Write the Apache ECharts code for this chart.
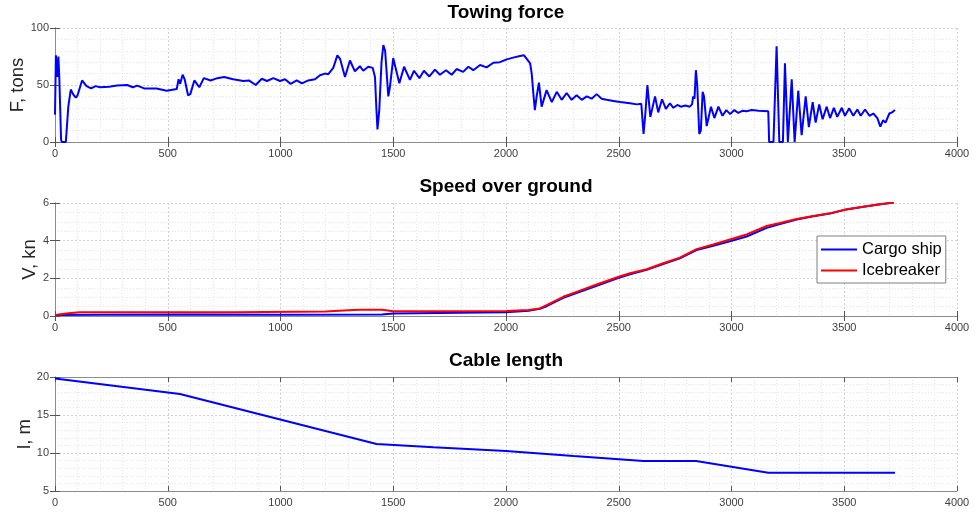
<!DOCTYPE html>
<html>
<head>
<meta charset="utf-8">
<title>Towing force, speed and cable length</title>
<script src="https://cdn.jsdelivr.net/npm/echarts@6/dist/echarts.min.js"></script>
<style>
  html, body { margin: 0; padding: 0; background: #ffffff; }
  #chart { width: 978px; height: 513px; }
</style>
</head>
<body>
<div id="chart"></div>
<script>
// ---- Towing force, F [tons] vs time [s]
const forceT = [0, 4, 10, 15, 19, 27, 30, 48, 59, 70, 80, 92, 100, 120, 140, 160, 180, 200, 240, 275,
  320, 345, 365, 395, 450, 495, 540, 548, 555, 566, 575, 590, 600, 618, 640, 660, 690, 720, 750, 790,
  835, 860, 890, 917, 940, 968, 998, 1020, 1045, 1072, 1095, 1123, 1153, 1175, 1197, 1212, 1234, 1252, 1264, 1286,
  1308, 1330, 1352, 1367, 1389, 1409, 1419, 1425, 1430, 1438, 1448, 1456, 1464, 1478, 1485, 1500, 1527, 1548, 1574, 1592,
  1616, 1636, 1660, 1685, 1707, 1734, 1759, 1781, 1810, 1833, 1855, 1885, 1914, 1944, 1973, 2003, 2032, 2062, 2080, 2092,
  2107, 2114, 2121, 2128, 2136, 2146, 2158, 2180, 2203, 2225, 2247, 2269, 2291, 2313, 2336, 2358, 2380, 2402, 2424, 2446,
  2476, 2506, 2550, 2580, 2600, 2610, 2618, 2627, 2640, 2661, 2675, 2692, 2709, 2727, 2742, 2760, 2775, 2795, 2815, 2825,
  2830, 2836, 2842, 2848, 2857, 2864, 2872, 2878, 2890, 2909, 2924, 2942, 2960, 2977, 2994, 3013, 3030, 3050, 3067, 3090,
  3120, 3163, 3167, 3186, 3200, 3212, 3228, 3237, 3250, 3256, 3267, 3280, 3284, 3296, 3311, 3329, 3343, 3360, 3373, 3389,
  3404, 3422, 3437, 3454, 3469, 3489, 3503, 3522, 3540, 3558, 3573, 3592, 3612, 3629, 3647, 3660, 3672, 3683, 3700, 3712, 3725];
const forceF = [24, 76, 57, 75, 57, 2, 0, 0, 31, 46, 42, 39, 41, 54, 49, 47, 49, 48, 48.5, 49.5,
  50, 48, 49.5, 47, 47, 45, 46.5, 55, 51, 59, 55, 41, 42, 54, 48, 56, 54, 56, 57, 55,
  53.5, 54, 50, 55.5, 53.5, 56, 53.5, 55, 51, 54, 51.5, 54, 55, 58.5, 60, 59.5, 65, 76, 73, 57,
  71.5, 62, 66.5, 62.5, 66, 65, 57, 30, 11, 28, 70, 85, 80, 40, 48, 73.5, 51.5, 66, 54.5, 62.5,
  56, 62.5, 57.5, 63.5, 59, 63, 59, 64, 61.5, 66, 63, 67.5, 65.5, 69.5, 70, 72.5, 74, 75.5, 76, 73,
  69, 60, 43, 28, 40, 52, 31, 45.5, 35, 44, 37, 43, 37, 41, 37, 40, 38, 42, 38, 37,
  36, 35, 34, 33, 33.5, 7, 25, 50, 22, 40, 26, 37.5, 29, 34, 30, 32.5, 31, 32, 31, 33,
  40, 38, 63, 50, 7, 10, 44, 40, 14, 31, 21, 31, 23, 28, 24.5, 28, 25.5, 27.5, 27, 28,
  27.5, 27, 0, 0, 84, 0, 0, 69, 0, 0, 55, 0, 0, 45, 6, 40, 13, 35, 17, 33,
  20, 31, 21, 30, 22, 30, 23, 29.5, 23, 28.5, 23, 28.5, 23, 25, 21, 13.5, 19, 17, 25, 26, 28];

// ---- Speed over ground, V [kn]
const cargoT = [0, 200, 600, 1000, 1450, 1500, 1700, 2000, 2100, 2150, 2180, 2254, 2328, 2402, 2497, 2550,
  2624, 2697, 2771, 2845, 2919, 2993, 3067, 3156, 3215, 3289, 3363, 3437, 3511, 3585, 3659, 3720];
const cargoV = [0.05, 0.06, 0.08, 0.07, 0.08, 0.13, 0.16, 0.2, 0.28, 0.38, 0.52, 0.96, 1.28, 1.6, 2.01, 2.22,
  2.45, 2.76, 3.06, 3.5, 3.73, 3.97, 4.22, 4.68, 4.88, 5.12, 5.3, 5.44, 5.66, 5.8, 5.93, 6.02];
const iceT = [0, 60, 110, 400, 800, 1200, 1300, 1350, 1450, 1500, 1700, 2000, 2100, 2150, 2180, 2254, 2328,
  2402, 2497, 2550, 2624, 2697, 2771, 2845, 2919, 2993, 3067, 3156, 3215, 3289, 3363, 3437, 3511, 3585, 3659, 3720];
const iceV = [0.05, 0.14, 0.2, 0.2, 0.2, 0.24, 0.3, 0.33, 0.33, 0.25, 0.25, 0.26, 0.32, 0.4, 0.58, 1.02, 1.35,
  1.67, 2.07, 2.27, 2.48, 2.8, 3.1, 3.55, 3.8, 4.06, 4.33, 4.78, 4.94, 5.15, 5.31, 5.45, 5.67, 5.8, 5.93, 6.02];

// ---- Cable length, l [m]
const cableT = [0, 554, 1426, 1678, 2000, 2300, 2609, 2843, 3163, 3725];
const cableL = [19.8, 17.76, 11.18, 10.75, 10.25, 9.6, 8.95, 8.95, 7.41, 7.41];

// ---- Axis settings
const panelTitles = ['Towing force', 'Speed over ground', 'Cable length'];
const yNames = ['F, tons', 'V, kn', 'l, m'];
const yMins = [0, 0, 5];
const yMaxs = [100, 6, 20];
const yIntervals = [50, 2, 5];
const yMinorSplits = [5, 4, 5];
const xMin = 0, xMax = 4000, xInterval = 500;

const FONT = '"Liberation Sans", Arial, Helvetica, sans-serif';
const gridTops = [28, 203, 377];
const gridHeights = [114, 113, 114];
const titleTops = [3, 177, 351];
const yNameGaps = [28, 16, 21];

const pairs = (xs, ys) => xs.map((x, k) => [x, ys[k]]);
const plainNumber = (v) => String(v);

const boxLine = { show: true, lineStyle: { color: '#8c8c8c', width: 1 } };
const innerTick = { show: true, inside: true, length: 5, lineStyle: { color: '#555555', width: 1 } };
const majorGrid = { show: true, lineStyle: { color: '#d2d2d2', width: 1, type: [2, 2] } };
const minorGrid = { show: true, lineStyle: { color: '#e6e6e6', width: 1, type: [1, 2] } };
const labelStyle = { color: '#404040', fontSize: 11, fontFamily: FONT, formatter: plainNumber };

const grids = [], xAxes = [], yAxes = [], titles = [];
for (let i = 0; i < 3; i++) {
  grids.push({
    left: 55, right: 21, top: gridTops[i], height: gridHeights[i],
    containLabel: false, outerBoundsMode: 'none'
  });
  titles.push({
    text: panelTitles[i], left: 506, top: titleTops[i], textAlign: 'center', padding: 0,
    textStyle: { fontSize: 19, fontWeight: 'bold', color: '#000000', fontFamily: FONT }
  });
  // bottom x axis (labelled) and top x axis (ticks only)
  xAxes.push({
    type: 'value', gridIndex: i, position: 'bottom', min: xMin, max: xMax, interval: xInterval,
    axisLine: boxLine, axisTick: innerTick,
    axisLabel: Object.assign({ margin: 6 }, labelStyle),
    splitLine: majorGrid,
    minorTick: { show: false, splitNumber: 5 },
    minorSplitLine: minorGrid
  });
  xAxes.push({
    type: 'value', gridIndex: i, position: 'top', min: xMin, max: xMax, interval: xInterval,
    axisLine: boxLine, axisTick: innerTick, axisLabel: { show: false },
    splitLine: { show: false }
  });
  // left y axis (labelled) and right y axis (ticks only)
  yAxes.push({
    type: 'value', gridIndex: i, position: 'left', min: yMins[i], max: yMaxs[i], interval: yIntervals[i],
    name: yNames[i], nameLocation: 'middle', nameGap: yNameGaps[i], nameMoveOverlap: false,
    nameTextStyle: { fontSize: 18.5, color: '#262626', fontFamily: FONT },
    axisLine: boxLine, axisTick: innerTick,
    axisLabel: Object.assign({ margin: 6 }, labelStyle),
    splitLine: majorGrid,
    minorTick: { show: false, splitNumber: yMinorSplits[i] },
    minorSplitLine: minorGrid
  });
  yAxes.push({
    type: 'value', gridIndex: i, position: 'right', min: yMins[i], max: yMaxs[i], interval: yIntervals[i],
    axisLine: boxLine, axisTick: innerTick, axisLabel: { show: false },
    splitLine: { show: false }
  });
}

const lineSeries = (name, data, axisIdx, color) => ({
  name: name, type: 'line', data: data, xAxisIndex: axisIdx, yAxisIndex: axisIdx,
  symbol: 'none', showSymbol: false, smooth: false, animation: false,
  lineStyle: { color: color, width: 2 }, itemStyle: { color: color }
});

const option = {
  animation: false,
  backgroundColor: '#ffffff',
  title: titles,
  grid: grids,
  xAxis: xAxes,
  yAxis: yAxes,
  legend: {
    data: ['Cargo ship', 'Icebreaker'],
    orient: 'vertical', left: 817, top: 236,
    icon: 'rect',
    backgroundColor: '#ffffff', borderColor: '#7f7f7f', borderWidth: 1, borderRadius: 0,
    padding: [5, 4, 4, 4], itemGap: 4, itemWidth: 36, itemHeight: 2,
    textStyle: { fontSize: 16.5, color: '#000000', fontFamily: FONT }
  },
  series: [
    lineSeries('Towing force', pairs(forceT, forceF), 0, '#0000ff'),
    lineSeries('Cargo ship', pairs(cargoT, cargoV), 2, '#0000ff'),
    lineSeries('Icebreaker', pairs(iceT, iceV), 2, '#ff0000'),
    lineSeries('Cable length', pairs(cableT, cableL), 4, '#0000ff')
  ]
};

echarts.init(document.getElementById('chart'), null, { renderer: 'canvas' }).setOption(option);
</script>
</body>
</html>
